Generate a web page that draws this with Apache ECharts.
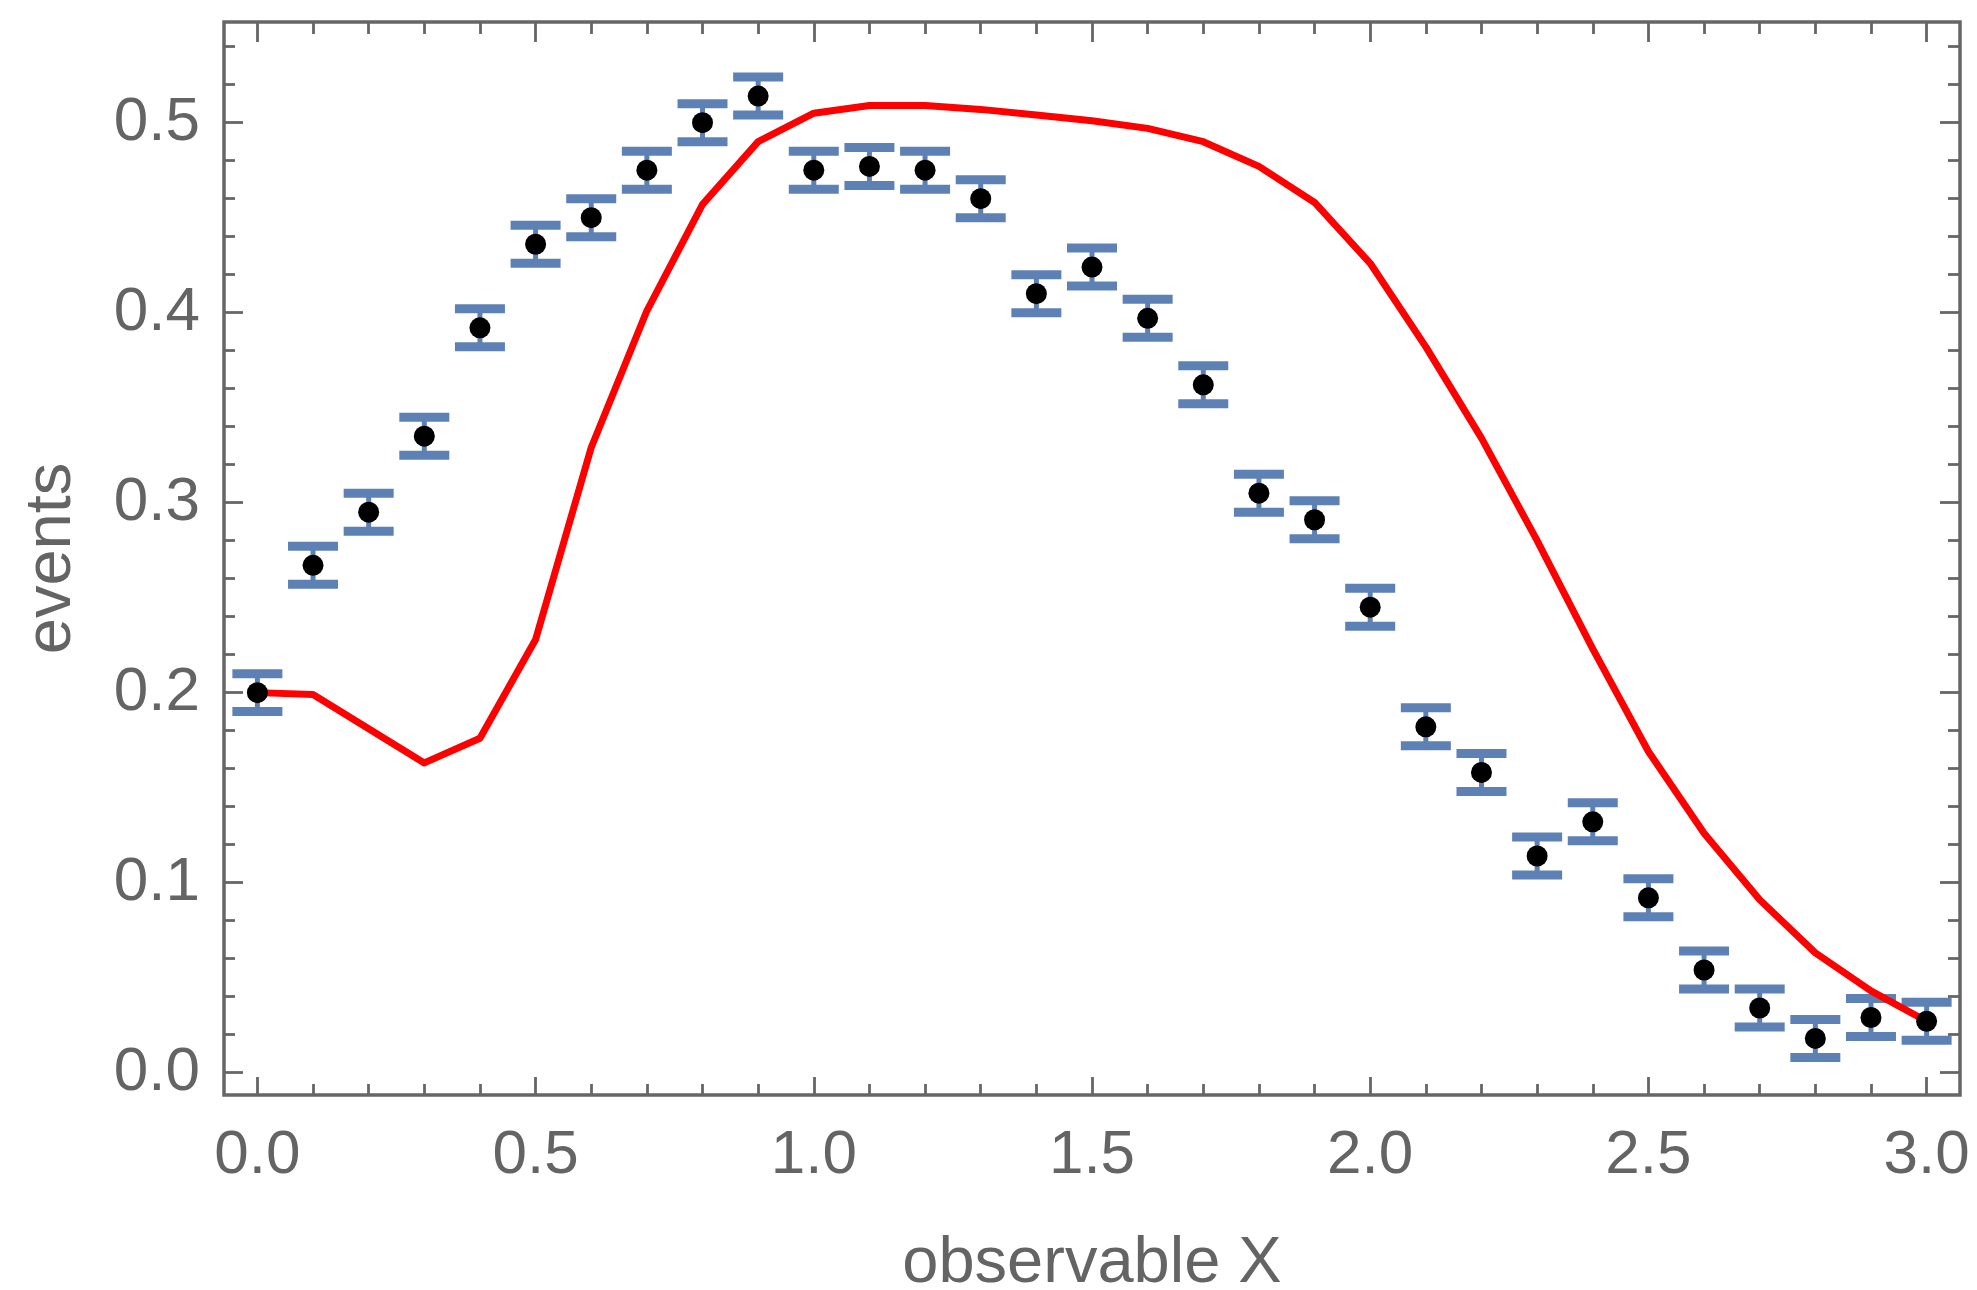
<!DOCTYPE html>
<html>
<head>
<meta charset="utf-8">
<script src="https://cdn.jsdelivr.net/npm/echarts@6/dist/echarts.min.js"></script>
<style>
html,body{margin:0;padding:0;background:#ffffff;}
#chart{width:1977px;height:1290px;}
</style>
</head>
<body>
<div id="chart"></div>
<script>
// ---- data ----
const xValues = [0.0,0.1,0.2,0.3,0.4,0.5,0.6,0.7,0.8,0.9,1.0,1.1,1.2,1.3,1.4,1.5,1.6,1.7,1.8,1.9,2.0,2.1,2.2,2.3,2.4,2.5,2.6,2.7,2.8,2.9,3.0];
const dataY   = [0.200,0.267,0.295,0.335,0.392,0.436,0.450,0.475,0.500,0.514,0.475,0.477,0.475,0.460,0.410,0.424,0.397,0.362,0.305,0.291,0.245,0.182,0.158,0.114,0.132,0.092,0.054,0.034,0.018,0.029,0.027];
const dataErr = [0.010,0.010,0.010,0.010,0.010,0.010,0.010,0.010,0.010,0.010,0.010,0.010,0.010,0.010,0.010,0.010,0.010,0.010,0.010,0.010,0.010,0.010,0.010,0.010,0.010,0.010,0.010,0.010,0.010,0.010,0.010];
const modelY  = [0.200,0.199,0.181,0.163,0.176,0.228,0.329,0.401,0.457,0.490,0.505,0.509,0.509,0.507,0.504,0.501,0.497,0.490,0.477,0.458,0.426,0.382,0.334,0.280,0.223,0.169,0.126,0.091,0.063,0.043,0.027];
const xMajorTicks = [0.0,0.5,1.0,1.5,2.0,2.5,3.0];
const xMinorTicks = [0.1,0.2,0.3,0.4,0.6,0.7,0.8,0.9,1.1,1.2,1.3,1.4,1.6,1.7,1.8,1.9,2.1,2.2,2.3,2.4,2.6,2.7,2.8,2.9];
const yMajorTicks = [0.0,0.1,0.2,0.3,0.4,0.5];
const yMinorTicks = [0.02,0.04,0.06,0.08,0.12,0.14,0.16,0.18,0.22,0.24,0.26,0.28,0.32,0.34,0.36,0.38,0.42,0.44,0.46,0.48,0.52,0.54];
const xTitle = 'observable X';
const yTitle = 'events';

// ---- styling ----
const FRAME = '#666666';
const TEXT = '#646464';
const BLUE = '#5E81B5';
const FONT = 'Liberation Sans, Arial, Helvetica, sans-serif';
const X_MIN = -0.06, X_MAX = 3.06, Y_MIN = -0.0118, Y_MAX = 0.553;

function axisBase(extra) {
  return Object.assign({
    type: 'value',
    gridIndex: 0,
    axisLine: {show: false, onZero: false},
    splitLine: {show: false},
    axisLabel: {show: false},
    axisPointer: {show: false}
  }, extra);
}
function ticks(values, len) {
  return {show: true, inside: true, length: len, customValues: values,
          lineStyle: {color: FRAME, width: 2.8}};
}

const xAxes = [
  axisBase({position: 'bottom', min: X_MIN, max: X_MAX,
    axisTick: ticks(xMajorTicks, 18),
    axisLabel: {show: true, customValues: xMajorTicks, margin: 30,
      formatter: v => Number(v).toFixed(1), color: TEXT, fontSize: 62, fontFamily: FONT},
    name: xTitle, nameLocation: 'middle', nameGap: 137,
    nameTextStyle: {color: TEXT, fontSize: 65, fontFamily: FONT}
  }),
  axisBase({position: 'bottom', min: X_MIN, max: X_MAX, axisTick: ticks(xMinorTicks, 11)}),
  axisBase({position: 'top', min: X_MIN, max: X_MAX, axisTick: ticks(xMajorTicks, 20)}),
  axisBase({position: 'top', min: X_MIN, max: X_MAX, axisTick: ticks(xMinorTicks, 12)})
];
const yAxes = [
  axisBase({position: 'left', min: Y_MIN, max: Y_MAX,
    axisTick: ticks(yMajorTicks, 19),
    axisLabel: {show: true, customValues: yMajorTicks, margin: 24,
      formatter: v => Number(v).toFixed(1), color: TEXT, fontSize: 62, fontFamily: FONT},
    name: yTitle, nameLocation: 'middle', nameGap: 139, nameRotate: 90,
    nameTextStyle: {color: TEXT, fontSize: 65, fontFamily: FONT}
  }),
  axisBase({position: 'left', min: Y_MIN, max: Y_MAX, axisTick: ticks(yMinorTicks, 11)}),
  axisBase({position: 'right', min: Y_MIN, max: Y_MAX, axisTick: ticks(yMajorTicks, 20)}),
  axisBase({position: 'right', min: Y_MIN, max: Y_MAX, axisTick: ticks(yMinorTicks, 12)})
];

const errData = xValues.map((x, i) => [x, dataY[i] - dataErr[i], dataY[i] + dataErr[i]]);
const pointData = xValues.map((x, i) => [x, dataY[i]]);
const modelData = xValues.map((x, i) => [x, modelY[i]]);

const chart = echarts.init(document.getElementById('chart'), null, {renderer: 'canvas'});
chart.setOption({
  animation: false,
  backgroundColor: '#ffffff',
  grid: {left: 224, top: 22, width: 1736, height: 1073, show: true,
         containLabel: false, outerBoundsMode: 'none',
         borderColor: FRAME, borderWidth: 3.5, backgroundColor: 'transparent'},
  xAxis: xAxes,
  yAxis: yAxes,
  series: [
    {
      type: 'custom', name: 'errors', xAxisIndex: 0, yAxisIndex: 0, z: 2,
      data: errData,
      renderItem: function (params, api) {
        const x = api.value(0);
        const pLo = api.coord([x, api.value(1)]);
        const pHi = api.coord([x, api.value(2)]);
        const capW = 50, capH = 9, stemW = 5;
        const style = {fill: BLUE};
        return {type: 'group', children: [
          {type: 'rect', shape: {x: pLo[0] - stemW / 2, y: pHi[1], width: stemW, height: pLo[1] - pHi[1]}, style: style},
          {type: 'rect', shape: {x: pHi[0] - capW / 2, y: pHi[1] - capH / 2, width: capW, height: capH}, style: style},
          {type: 'rect', shape: {x: pLo[0] - capW / 2, y: pLo[1] - capH / 2, width: capW, height: capH}, style: style}
        ]};
      }
    },
    {
      type: 'line', name: 'model', xAxisIndex: 0, yAxisIndex: 0, z: 3,
      data: modelData, showSymbol: false, symbol: 'none', smooth: false,
      lineStyle: {color: '#ff0000', width: 7, join: 'round', cap: 'round'}
    },
    {
      type: 'scatter', name: 'data', xAxisIndex: 0, yAxisIndex: 0, z: 4,
      data: pointData, symbol: 'circle', symbolSize: 21,
      itemStyle: {color: '#000000', opacity: 1}
    }
  ]
});
</script>
</body>
</html>
